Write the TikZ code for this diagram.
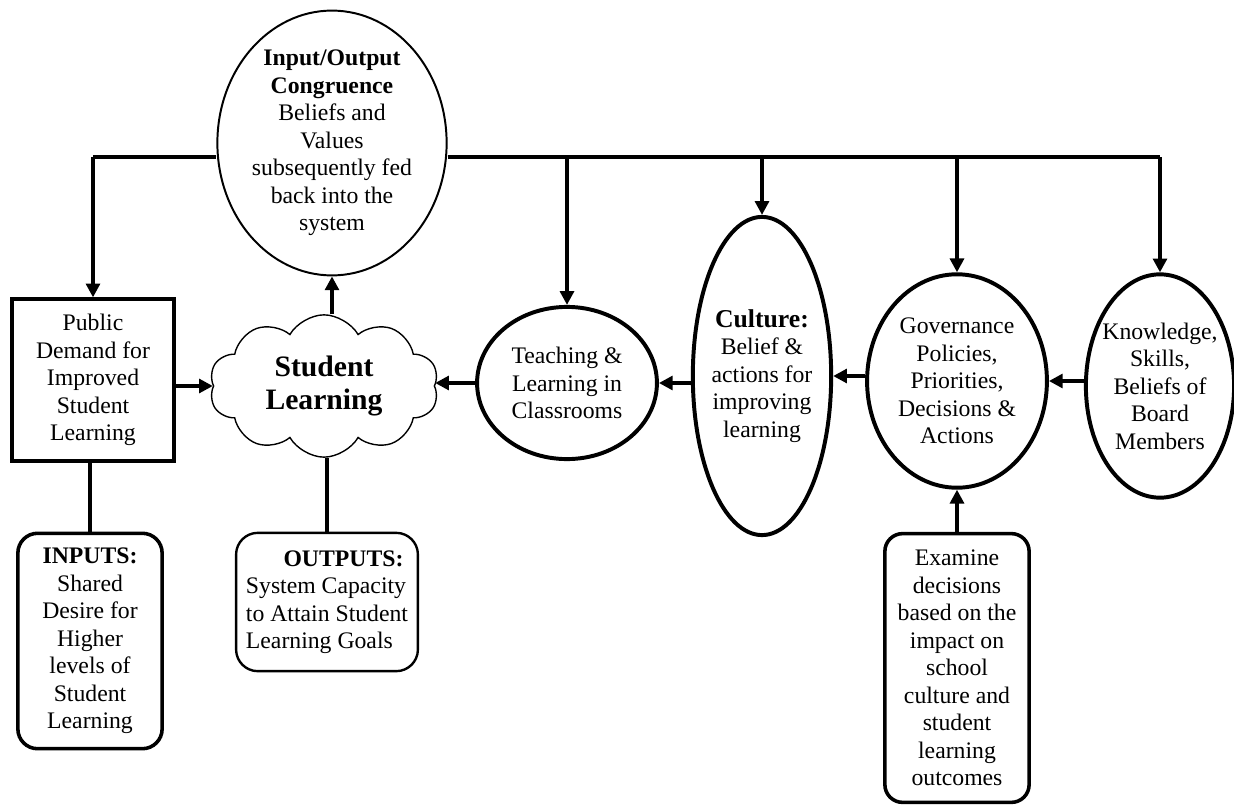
\documentclass[tikz,border=0pt]{standalone}
\usepackage{fontspec}
\setmainfont{Liberation Serif}
\usepackage{tikz}
\usetikzlibrary{arrows.meta}
\usetikzlibrary{shapes.geometric,shapes.symbols}

\begin{document}
\begin{tikzpicture}[x=0.506pt,y=-0.506pt,font=\fontsize{12}{13.9}\selectfont]
	\useasboundingbox (0,0) rectangle (1234,806);
	\begin{scope}[every node/.style = {ellipse, draw, align=center, inner sep=0pt, line width=2pt}]
		\node (io) [line width=1pt, minimum width=116pt, minimum height=134pt] at (332,143)
			{\textbf{Input/Output}\\ \textbf{Congruence}\\ Beliefs and\\ Values\\ subsequently fed\\ back into the\\ system};
		\node (teach) [minimum width=91pt, minimum height=77pt] at (567,383)
			{Teaching \&\\ Learning in\\ Classrooms};
		\node (culture) [minimum width=70pt, minimum height=161pt, inner xsep=-2pt] at (762,376)
			{{\fontsize{13}{15}\selectfont\textbf{Culture:}}\\ Belief \&\\ actions for\\ improving\\ learning};
		\node (gov) [minimum width=91pt, minimum height=108pt] at (957,381)
			{Governance\\ Policies,\\ Priorities,\\ Decisions \&\\ Actions};
		\node (know) [minimum width=75pt, minimum height=113pt, inner xsep=-6pt] at (1160,386)
			{Knowledge,\\ Skills,\\ Beliefs of\\ Board\\ Members};
	\end{scope}
	\begin{scope}[every node/.style = {draw, align=center, inner sep=0pt}]
		\node (learn) [cloud, cloud puffs=10, cloud puff arc=120, aspect=1.6, line width=0.7pt,
			inner xsep=-6pt, inner ysep=-12pt, minimum width=116pt, minimum height=72pt,
			font=\fontsize{15}{17}\selectfont\bfseries] at (324,386) {Student\\ Learning};
		\node (demand) [line width=1.6pt, minimum width=82pt, minimum height=82pt] at (93,380)
			{Public\\ Demand for\\ Improved\\ Student\\ Learning};
		\node (inputs) [rounded corners=10pt, line width=1.8pt, minimum width=73pt, minimum height=109pt] at (90,641)
			{\textbf{INPUTS:}\\ Shared\\ Desire for\\ Higher\\ levels of\\ Student\\ Learning};
		\node (outputs) [rounded corners=11pt, line width=1.2pt, align=left, minimum width=92pt, minimum height=70pt] at (327,602)
			{\hspace*{19pt}\textbf{OUTPUTS:}\\ System Capacity\\ to Attain Student\\ Learning Goals};
		\node (examine) [rounded corners=9pt, line width=1.8pt, minimum width=73pt, minimum height=136pt] at (957,668)
			{Examine\\ decisions\\ based on the\\ impact on\\ school\\ culture and\\ student\\ learning\\ outcomes};
	\end{scope}
	% feedback bus
	\coordinate (busL) at (93,157);
	\coordinate (busR) at (1160,157);
	\begin{scope}[line width=1.8pt]
		\draw (busL) -- (busL -| io.west);
		\draw (busL -| io.east) -- (busR);
		\draw (demand.south -| inputs.north) -- (inputs.north);
		\draw (learn.south -| outputs.north) -- (outputs.north);
	\end{scope}
	\begin{scope}[>={Triangle[length=7pt,width=7pt]},
			every edge/.style={draw=black, line width=1.8pt}]
		\path [->] (busL) edge (demand.north);
		\path [->] (busL -| teach.north) edge (teach.north);
		\path [->] (busL -| culture.north) edge (culture.north);
		\path [->] (busL -| gov.north) edge (gov.north);
		\path [->] (busR) edge (know.north);
		\path [->] (learn.north -| io.south) edge (io.south);
		\path [->] (demand.east |- learn.west) edge (learn.west);
		\path [->] (teach.west) edge (teach.west -| learn.east);
		\path [->] (culture.west |- teach) edge (teach.east);
		\path [->] (gov.west |- culture) edge (culture.east);
		\path [->] (know.west |- gov) edge (gov.east);
		\path [->] (examine.north) edge (gov.south);
	\end{scope}
\end{tikzpicture}
\end{document}
